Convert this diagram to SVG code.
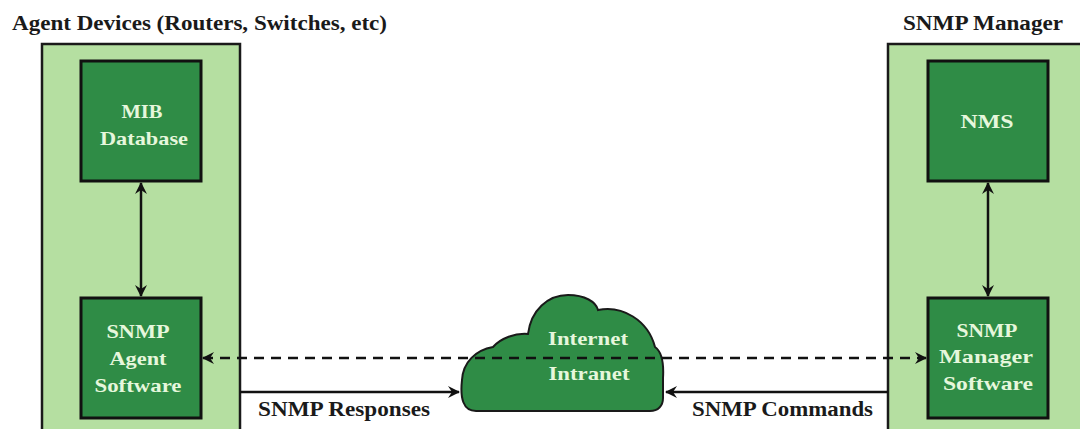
<svg xmlns="http://www.w3.org/2000/svg" width="1080" height="429" viewBox="0 0 1080 429">
<defs>
<style>
.title{font-family:"Liberation Serif","DejaVu Serif",serif;font-weight:bold;font-size:20px;fill:#1a1a1a}
.lbl{font-family:"Liberation Serif","DejaVu Serif",serif;font-weight:bold;font-size:20px;fill:#1a1a1a}
.in{font-family:"Liberation Serif","DejaVu Serif",serif;font-weight:bold;font-size:19px;fill:#e6f7dc;text-anchor:middle}
.outer{fill:#b5dfa1;stroke:#1a1a1a;stroke-width:2.5}
.inner{fill:#2f8c46;stroke:#111;stroke-width:3}
.ln{stroke:#111;stroke-width:2.5;fill:none}
.dash{stroke:#111;stroke-width:2.5;fill:none;stroke-dasharray:10 7}
</style>
<marker id="ah" viewBox="0 0 12 12" refX="11" refY="6" markerWidth="12" markerHeight="12" markerUnits="userSpaceOnUse" orient="auto-start-reverse">
<path d="M0,0 L12,6 L0,12 L4,6 Z" fill="#111"/>
</marker>
</defs>
<rect width="1080" height="429" fill="#fff"/>
<g id="agent-device">
<rect class="outer" x="42" y="44" width="198" height="400"/>
<text class="title" x="12" y="30" textLength="375" lengthAdjust="spacingAndGlyphs">Agent Devices (Routers, Switches, etc)</text>
</g>
<g id="snmp-manager">
<rect class="outer" x="888" y="44" width="200" height="400"/>
<text class="title" x="983" y="30" text-anchor="middle" textLength="160" lengthAdjust="spacingAndGlyphs">SNMP Manager</text>
</g>
<g id="mib">
<rect class="inner" x="81" y="61" width="120" height="120"/>
<text class="in" x="142" y="118" textLength="41" lengthAdjust="spacingAndGlyphs">MIB</text>
<text class="in" x="144" y="145" textLength="88" lengthAdjust="spacingAndGlyphs">Database</text>
</g>
<g id="agent-software">
<rect class="inner" x="81" y="298" width="120" height="120"/>
<text class="in" x="138" y="338" textLength="63" lengthAdjust="spacingAndGlyphs">SNMP</text>
<text class="in" x="138" y="365" textLength="57" lengthAdjust="spacingAndGlyphs">Agent</text>
<text class="in" x="138" y="392" textLength="87" lengthAdjust="spacingAndGlyphs">Software</text>
</g>
<g id="nms">
<rect class="inner" x="928" y="61" width="120" height="120"/>
<text class="in" x="987" y="128" textLength="53" lengthAdjust="spacingAndGlyphs">NMS</text>
</g>
<g id="manager-software">
<rect class="inner" x="928" y="298" width="120" height="120"/>
<text class="in" x="987" y="337" textLength="61" lengthAdjust="spacingAndGlyphs">SNMP</text>
<text class="in" x="986" y="363" textLength="94" lengthAdjust="spacingAndGlyphs">Manager</text>
<text class="in" x="988" y="390" textLength="90" lengthAdjust="spacingAndGlyphs">Software</text>
</g>
<g id="cloud">
<path d="M476,411 C463,411 460,398 462,380 C463,362 476,350 493,347 C501,338 515,333 528,334 C531,310 548,295 568,295 C585,295 596,302 598,310 C622,305 648,320 655,347 C662,352 664,362 663,378 L663,398 C663,406 658,411 650,411 Z" fill="#2f8c46" stroke="#1a1a1a" stroke-width="2"/>
<text class="in" x="588" y="345" textLength="80" lengthAdjust="spacingAndGlyphs">Internet</text>
<text class="in" x="589" y="380" textLength="81" lengthAdjust="spacingAndGlyphs">Intranet</text>
</g>
<g id="connectors">
<line class="ln" x1="141" y1="183" x2="141" y2="296" marker-start="url(#ah)" marker-end="url(#ah)"/>
<line class="ln" x1="988" y1="183" x2="988" y2="296" marker-start="url(#ah)" marker-end="url(#ah)"/>
<line class="dash" x1="203" y1="358" x2="926" y2="358" marker-start="url(#ah)" marker-end="url(#ah)"/>
<line class="ln" x1="240" y1="392" x2="459" y2="392" marker-end="url(#ah)"/>
<line class="ln" x1="888" y1="392" x2="666" y2="392" marker-end="url(#ah)"/>
</g>
<text class="lbl" x="258" y="416" textLength="172" lengthAdjust="spacingAndGlyphs">SNMP Responses</text>
<text class="lbl" x="692" y="416" textLength="181" lengthAdjust="spacingAndGlyphs">SNMP Commands</text>
</svg>
